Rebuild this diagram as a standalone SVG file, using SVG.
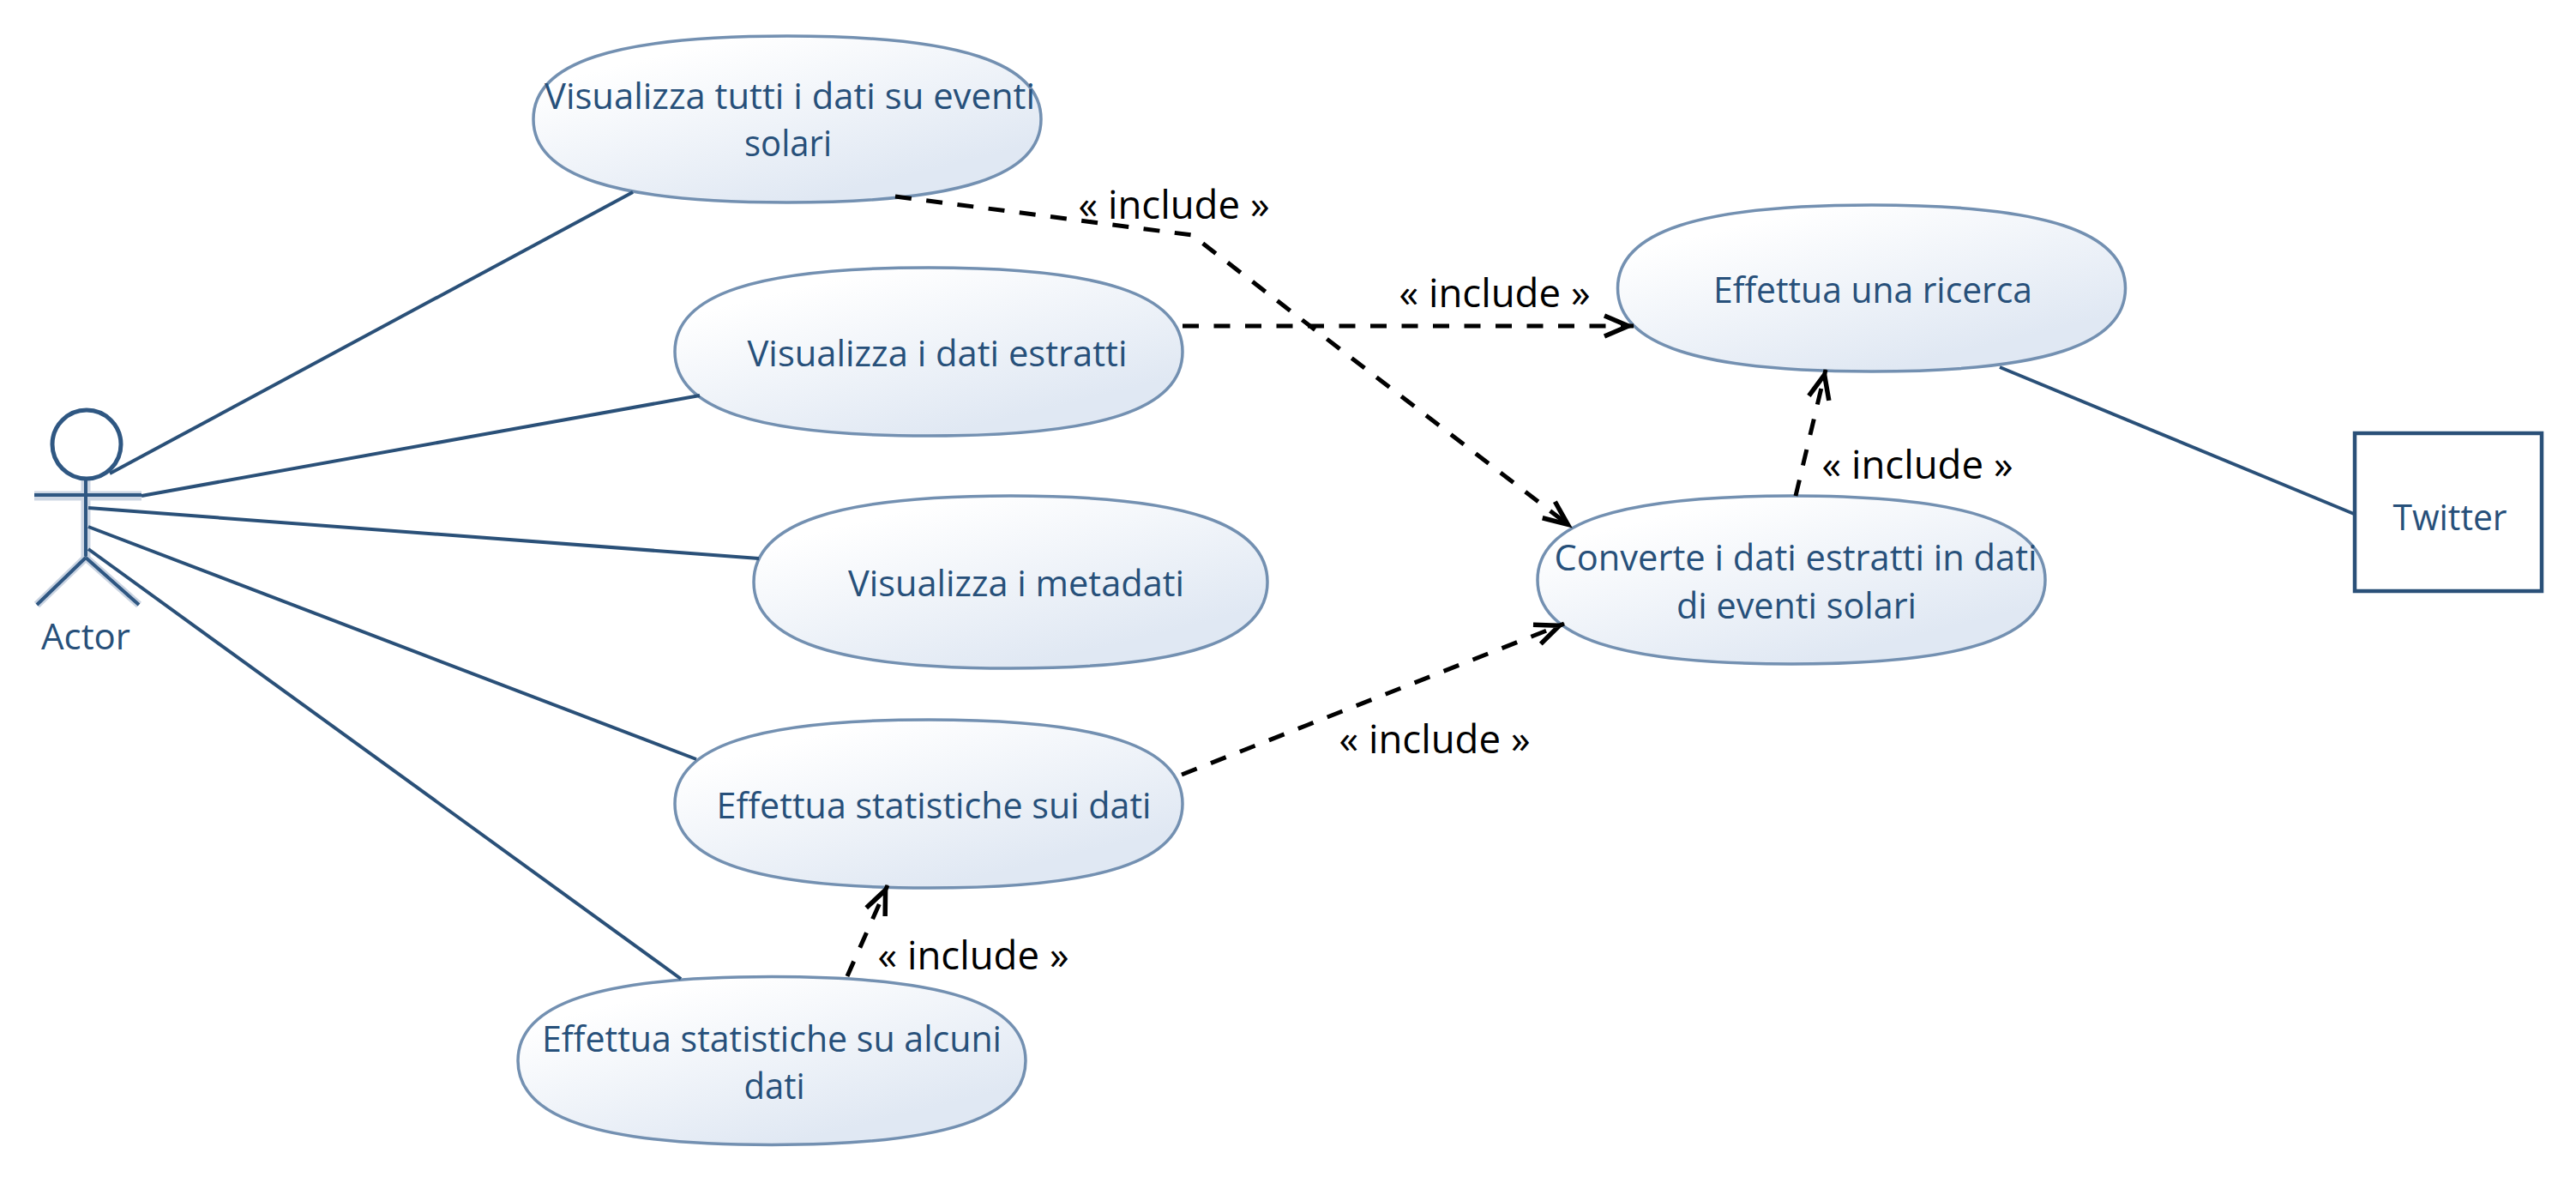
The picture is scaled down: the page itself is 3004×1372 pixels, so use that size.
<svg xmlns="http://www.w3.org/2000/svg" width="3004" height="1372" viewBox="0 0 3004 1372">
<style>
.uc{fill:url(#g);stroke:#7390b1;stroke-width:3.5}
.t{font-family:"Open Sans","Noto Sans",sans-serif;font-size:42px;fill:#27507a;text-anchor:middle}
.inc{font-family:"Open Sans","Noto Sans",sans-serif;font-size:46px;fill:#000;text-anchor:middle}
.s{fill:none;stroke:#2a5078;stroke-width:4}
.d{fill:none;stroke:#000;stroke-width:5;stroke-dasharray:19 17.5;marker-end:url(#a)}
.h{fill:none;stroke:#cdd6e3;stroke-width:11}
.a{fill:none;stroke:#2f5782;stroke-width:4}
</style>
<defs>
<linearGradient id="g" x1="0.2" y1="0.15" x2="0.72" y2="0.85"><stop offset="0" stop-color="#ffffff"/><stop offset="1" stop-color="#e0e8f3"/></linearGradient>
<marker id="a" markerUnits="userSpaceOnUse" markerWidth="40" markerHeight="40" refX="38" refY="20" orient="auto" viewBox="0 0 40 40"><path d="M4,8 L32,20 L4,32" fill="none" stroke="#000" stroke-width="5.5"/></marker>
</defs>
<rect width="3004" height="1372" fill="#fff"/>
<g id="actor">
<path class="h" d="M40,578H165M100,560V650"/>
<path class="a" d="M40,577H165M100,558V650"/>
<circle cx="101" cy="518" r="40" fill="none" stroke="#2f5782" stroke-width="5"/>
<path d="M100,650L43,705M100,650L162,705" fill="none" stroke="#c9d3e1" stroke-width="9"/>
<path d="M100,650L43,705M100,650L162,705" class="a"/>
<text class="t" x="100" y="757" textLength="104" lengthAdjust="spacingAndGlyphs">Actor</text>
</g>
<g id="uc1"><path class="uc" d="M622,139c0,-66 95,-97 296,-97c201,0 296,31 296,97c0,66 -95,97 -296,97c-201,0 -296,-31 -296,-97z"/><text class="t" x="921" y="127" textLength="572" lengthAdjust="spacingAndGlyphs">Visualizza tutti i dati su eventi</text><text class="t" x="919" y="182" textLength="102" lengthAdjust="spacingAndGlyphs">solari</text></g>
<g id="uc2"><path class="uc" d="M787,410c0,-67 95,-98 296,-98c201,0 296,31 296,98c0,67 -95,98 -296,98c-201,0 -296,-31 -296,-98z"/><text class="t" x="1093" y="427" textLength="443" lengthAdjust="spacingAndGlyphs">Visualizza i dati estratti</text></g>
<g id="uc3"><path class="uc" d="M879,678.5c0,-68 96,-100.5 299.5,-100.5c203.500,0 299.500,32.500 299.500,100.500c0,68 -96,100.500 -299.500,100.500c-203.500,0 -299.500,-32.500 -299.500,-100.500z"/><text class="t" x="1185" y="695" textLength="392" lengthAdjust="spacingAndGlyphs">Visualizza i metadati</text></g>
<g id="uc4"><path class="uc" d="M787,937c0,-67 95,-98 296,-98c201,0 296,31 296,98c0,67 -95,98 -296,98c-201,0 -296,-31 -296,-98z"/><text class="t" x="1089" y="954" textLength="507" lengthAdjust="spacingAndGlyphs">Effettua statistiche sui dati</text></g>
<g id="uc5"><path class="uc" d="M604,1236.5c0,-67 95,-98 296,-98c201,0 296,31 296,98c0,67 -95,98 -296,98c-201,0 -296,-31 -296,-98z"/><text class="t" x="900" y="1226" textLength="536" lengthAdjust="spacingAndGlyphs">Effettua statistiche su alcuni</text><text class="t" x="903" y="1281" textLength="71" lengthAdjust="spacingAndGlyphs">dati</text></g>
<g id="uc6"><path class="uc" d="M1886.500,336c0,-66 95,-97 296,-97c201,0 296,31 296,97c0,66 -95,97 -296,97c-201,0 -296,-31 -296,-97z"/><text class="t" x="2184" y="353" textLength="372" lengthAdjust="spacingAndGlyphs">Effettua una ricerca</text></g>
<g id="uc7"><path class="uc" d="M1793,676c0,-67 95,-98 296,-98c201,0 296,31 296,98c0,67 -95,98 -296,98c-201,0 -296,-31 -296,-98z"/><text class="t" x="2094" y="665" textLength="563" lengthAdjust="spacingAndGlyphs">Converte i dati estratti in dati</text><text class="t" x="2095" y="721" textLength="280" lengthAdjust="spacingAndGlyphs">di eventi solari</text></g>
<g id="twitter"><rect x="2746" y="505" width="218" height="184" fill="#fff" stroke="#2a5078" stroke-width="4.500"/><text class="t" x="2857" y="618" textLength="133" lengthAdjust="spacingAndGlyphs">Twitter</text></g>
<g id="connectors">
<path class="s" d="M128,552L738,224"/>
<path class="s" d="M165,578L816,461"/>
<path class="s" d="M103,592L885,651"/>
<path class="s" d="M103,614L812,885"/>
<path class="s" d="M103,640L794,1141"/>
<path class="s" d="M2332,428L2745,599"/>
<path class="d" d="M1044,229L1390,274L1833,615"/>
<path class="d" d="M1379,380H1905"/>
<path class="d" d="M2094,578L2129,431"/>
<path class="d" d="M1378,903L1824,727"/>
<path class="d" d="M988,1138L1035,1032"/>
</g>
<g id="labels">
<text class="inc" x="1369" y="255" textLength="223" lengthAdjust="spacingAndGlyphs">« include »</text>
<text class="inc" x="1743" y="358" textLength="223" lengthAdjust="spacingAndGlyphs">« include »</text>
<text class="inc" x="2236" y="558" textLength="223" lengthAdjust="spacingAndGlyphs">« include »</text>
<text class="inc" x="1673" y="878" textLength="223" lengthAdjust="spacingAndGlyphs">« include »</text>
<text class="inc" x="1135" y="1130" textLength="223" lengthAdjust="spacingAndGlyphs">« include »</text>
</g>
</svg>
